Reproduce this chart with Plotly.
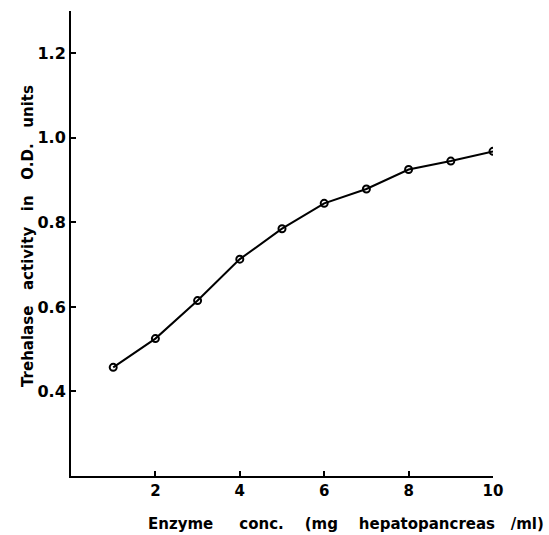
import plotly.graph_objects as go

enzyme_conc = [1, 2, 3, 4, 5, 6, 7, 8, 9, 10]
trehalase_od = [0.457, 0.525, 0.615, 0.713, 0.785, 0.845, 0.879, 0.925, 0.945, 0.968]

x_ticks = [2, 4, 6, 8, 10]
y_ticks = [0.4, 0.6, 0.8, 1.0, 1.2]
y_tick_text = ["0.4", "0.6", "0.8", "1.0", "1.2"]

x_title = "Enzyme     conc.    (mg    hepatopancreas   /ml)"
y_title = "Trehalase   activity   in   O.D.   units"

FONT = "DejaVu Sans"
PLOT_L, PLOT_R, PLOT_T, PLOT_B = 71, 493, 11, 476
W, H = 549, 535

fig = go.Figure()
fig.add_trace(go.Scatter(
    x=enzyme_conc, y=trehalase_od,
    mode="lines+markers",
    line=dict(color="black", width=2),
    marker=dict(symbol="circle-open", size=7, color="black", line=dict(width=2, color="black")),
    showlegend=False,
))

pw = PLOT_R - PLOT_L
ph = PLOT_B - PLOT_T

fig.add_annotation(
    text=x_title, xref="paper", yref="paper",
    x=(346 - PLOT_L) / pw, y=-(524 - PLOT_B) / ph,
    xanchor="center", yanchor="middle", showarrow=False,
    font=dict(size=15, family=FONT, color="black", weight="bold"),
)
fig.add_annotation(
    text=y_title, xref="paper", yref="paper",
    x=(28 - PLOT_L) / pw, y=(PLOT_B - 236) / ph,
    xanchor="center", yanchor="middle", showarrow=False, textangle=-90,
    font=dict(size=15, family=FONT, color="black", weight="bold"),
)

fig.update_layout(
    width=W, height=H,
    margin=dict(l=PLOT_L, r=W - PLOT_R, t=PLOT_T, b=H - PLOT_B),
    plot_bgcolor="white", paper_bgcolor="white",
    font=dict(family=FONT, color="black"),
    xaxis=dict(
        range=[0, 10], tickvals=x_ticks, ticks="inside", ticklen=5, tickwidth=2,
        tickcolor="black", showline=True, linecolor="black", linewidth=2,
        showgrid=False, zeroline=False,
        tickfont=dict(size=15, family=FONT, color="black", weight="bold"),
    ),
    yaxis=dict(
        range=[0.2, 1.3], tickvals=y_ticks, ticktext=y_tick_text, ticks="inside", ticklen=5, tickwidth=2,
        tickcolor="black", showline=True, linecolor="black", linewidth=2,
        showgrid=False, zeroline=False,
        tickfont=dict(size=16, family=FONT, color="black", weight="bold"),
    ),
)

fig.write_html("out.html")
